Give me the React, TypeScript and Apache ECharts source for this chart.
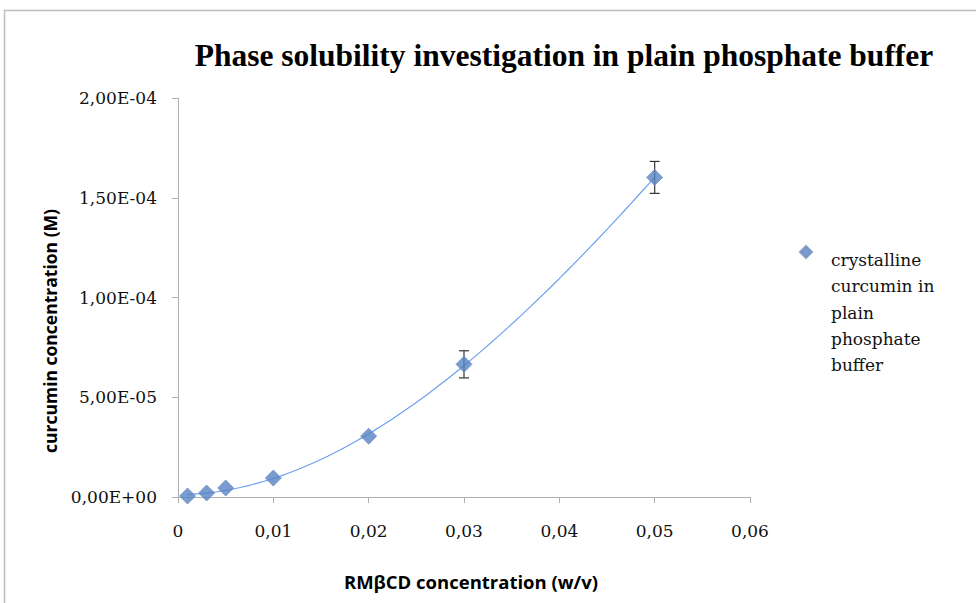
import React, { useEffect, useRef } from "react";
import * as echarts from "echarts";

const xValues = [0.001, 0.003, 0.005, 0.01, 0.02, 0.03, 0.05];
const yValues = [0.5e-6, 2.0e-6, 4.5e-6, 9.5e-6, 30.5e-6, 66.5e-6, 160.2e-6];
const errX = [0.03, 0.05];
const errY = [66.5e-6, 160.2e-6];
const errDelta = [6.8e-6, 8.0e-6];
const seriesName = "crystalline curcumin in plain phosphate buffer";
const legendLines = ["crystalline", "curcumin in", "plain", "phosphate", "buffer"];
const titleText = "Phase solubility investigation in plain phosphate buffer";
const xAxisName = "RMβCD concentration (w/v)";
const yAxisName = "curcumin concentration (M)";
const trendDegree = 3;
const trendSamples = 80;

const fmtY = (v: number) => {
  const [m, e] = v.toExponential(2).split("e");
  const sign = e[0] === "-" ? "-" : "+";
  const digits = e.replace(/[+-]/, "").padStart(2, "0");
  return m.replace(".", ",") + "E" + sign + digits;
};
const fmtX = (v: number) => String(Math.round(v * 100) / 100).replace(".", ",");

// least-squares polynomial trendline computed from the data points
function polyfit(xs: number[], ys: number[], deg: number) {
  const sx = 100, sy = 1e6;
  const X = xs.map((v) => v * sx);
  const Y = ys.map((v) => v * sy);
  const n = deg + 1;
  const A: number[][] = Array.from({ length: n }, () => new Array(n + 1).fill(0));
  for (let k = 0; k < X.length; k++) {
    for (let i = 0; i < n; i++) {
      for (let j = 0; j < n; j++) A[i][j] += Math.pow(X[k], i + j);
      A[i][n] += Y[k] * Math.pow(X[k], i);
    }
  }
  for (let i = 0; i < n; i++) {
    let p = i;
    for (let r = i + 1; r < n; r++) if (Math.abs(A[r][i]) > Math.abs(A[p][i])) p = r;
    [A[i], A[p]] = [A[p], A[i]];
    for (let r = 0; r < n; r++) {
      if (r === i) continue;
      const f = A[r][i] / A[i][i];
      for (let c = i; c <= n; c++) A[r][c] -= f * A[i][c];
    }
  }
  const coef = A.map((row, i) => row[n] / row[i]);
  return (x: number) => {
    const t = x * sx;
    let s = 0;
    for (let i = 0; i < n; i++) s += coef[i] * Math.pow(t, i);
    return s / sy;
  };
}

export default function App() {
  const ref = useRef<HTMLDivElement>(null);
  useEffect(() => {
    if (!ref.current) return;
    const chart = echarts.init(ref.current, null, { renderer: "svg" });
    const pts = xValues.map((x, i) => [x, yValues[i]]);
    const errData = errX.map((x, i) => [x, errY[i] - errDelta[i], errY[i] + errDelta[i]]);
    const f = polyfit(xValues, yValues, trendDegree);
    const x0 = xValues[0];
    const x1 = xValues[xValues.length - 1];
    const trend: number[][] = [];
    for (let i = 0; i <= trendSamples; i++) {
      const x = x0 + ((x1 - x0) * i) / trendSamples;
      trend.push([x, f(x)]);
    }
    chart.setOption({
      animation: false,
      backgroundColor: "#fff",
      title: {
        text: titleText,
        left: 564,
        textAlign: "center",
        top: 39,
        padding: 0,
        textStyle: { fontFamily: "Liberation Serif", fontWeight: "bold", fontSize: 31.5, color: "#000" },
      },
      graphic: [
        {
          type: "rect",
          shape: { x: 4.5, y: 10.5, width: 1000, height: 700 },
          style: { fill: "none", stroke: "#bdbdbd", lineWidth: 1.5 },
          silent: true,
        },
        {
          type: "text",
          x: 50,
          y: 331,
          rotation: Math.PI / 2,
          style: {
            text: yAxisName,
            font: "bold 17.5px 'Open Sans'",
            fill: "#000",
            align: "center",
            verticalAlign: "middle",
          },
        },
      ],
      legend: {
        data: [seriesName],
        orient: "vertical",
        left: 799,
        top: 125.5,
        padding: 0,
        itemWidth: 12,
        itemHeight: 12,
        icon: "diamond",
        formatter: () => "{sp|}\n\n\n\n" + legendLines.join("\n"),
        textStyle: {
          fontFamily: "DejaVu Serif",
          fontSize: 17,
          lineHeight: 26.3,
          color: "#111",
          padding: [0, 0, 0, 14],
          rich: {
            sp: { lineHeight: 42.6, fontSize: 17 },
          },
        },
      },
      grid: { left: 178, right: 226, top: 98, bottom: 106, containLabel: false },
      xAxis: {
        type: "value",
        min: 0,
        max: 0.06,
        interval: 0.01,
        name: xAxisName,
        nameLocation: "middle",
        nameGap: 75,
        nameTextStyle: { fontFamily: "Open Sans", fontWeight: "bold", fontSize: 18.5, color: "#000", padding: [0, 0, 0, 14] },
        axisLine: { lineStyle: { color: "#b0b0b0", width: 1 } },
        axisTick: { show: true, inside: false, length: 6, lineStyle: { color: "#b0b0b0" } },
        axisLabel: { formatter: fmtX, margin: 25, fontFamily: "DejaVu Serif", fontSize: 17, color: "#111" },
        splitLine: { show: false },
      },
      yAxis: {
        type: "value",
        min: 0,
        max: 2e-4,
        interval: 5e-5,
        axisLine: { show: true, lineStyle: { color: "#b0b0b0", width: 1 } },
        axisTick: { show: true, inside: false, length: 6, lineStyle: { color: "#b0b0b0" } },
        axisLabel: { formatter: fmtY, margin: 21, fontFamily: "DejaVu Serif", fontSize: 17, color: "#111" },
        splitLine: { show: false },
      },
      series: [
        {
          type: "line",
          name: "trend",
          data: trend,
          showSymbol: false,
          symbol: "none",
          lineStyle: { color: "#6c9ff0", width: 1.2 },
          z: 1,
          silent: true,
        },
        {
          type: "custom",
          name: "error",
          data: errData,
          encode: { x: 0, y: [1, 2] },
          z: 2,
          silent: true,
          renderItem: (params: any, api: any) => {
            const x = api.value(0);
            const lo = api.coord([x, api.value(1)]);
            const hi = api.coord([x, api.value(2)]);
            const cw = 5;
            const st = { stroke: "#333", lineWidth: 1.2 };
            return {
              type: "group",
              children: [
                { type: "line", shape: { x1: hi[0], y1: hi[1], x2: lo[0], y2: lo[1] }, style: st },
                { type: "line", shape: { x1: hi[0] - cw, y1: hi[1], x2: hi[0] + cw, y2: hi[1] }, style: st },
                { type: "line", shape: { x1: lo[0] - cw, y1: lo[1], x2: lo[0] + cw, y2: lo[1] }, style: st },
              ],
            };
          },
        },
        {
          type: "scatter",
          name: seriesName,
          data: pts,
          symbol: "diamond",
          symbolSize: 16,
          itemStyle: { color: "#5682c4", borderColor: "#7590bd", borderWidth: 1 },
          z: 3,
        },
      ],
    });
    return () => chart.dispose();
  }, []);
  return (
    <div
      ref={ref}
      style={{ position: "fixed", left: 0, top: 0, width: 976, height: 603 }}
    />
  );
}
